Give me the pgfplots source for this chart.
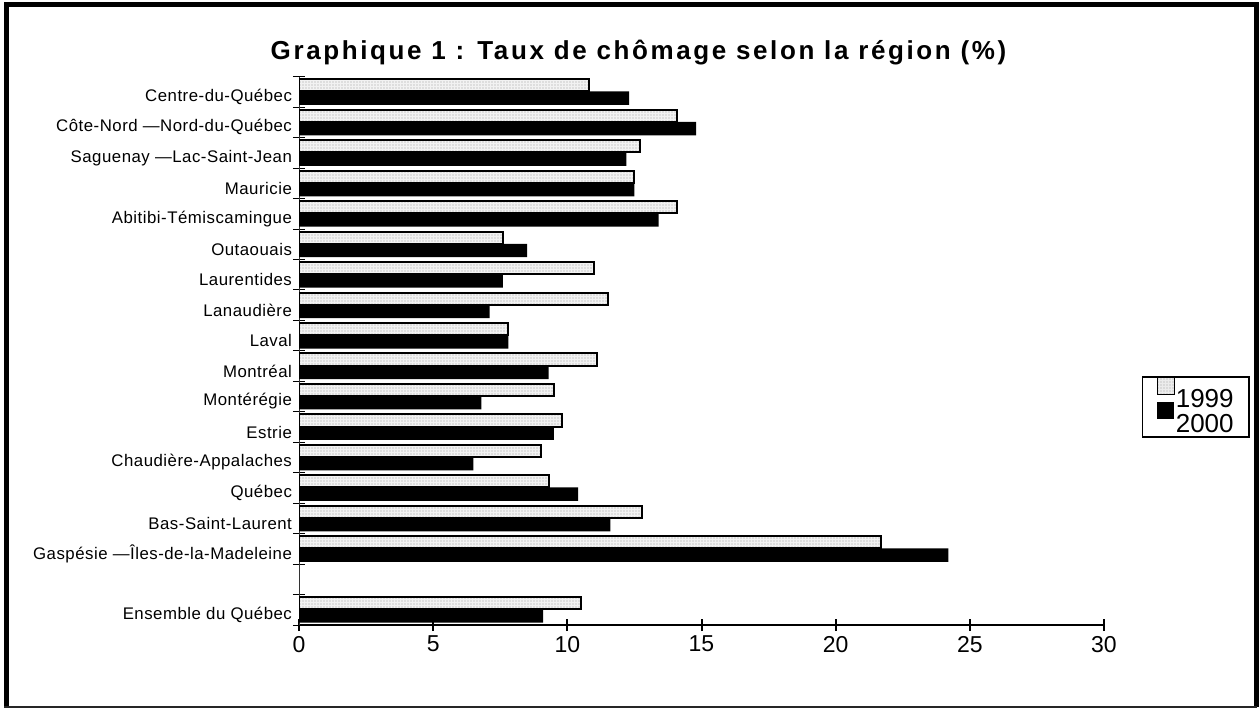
\documentclass[border=0pt]{standalone}
\usepackage{fontspec}
\setmainfont{Liberation Sans}
\newfontfamily\lblfont[LetterSpace=3]{Liberation Sans}
\newfontfamily\ttlfont[LetterSpace=10]{Liberation Sans}
\usepackage{pgfplots}
\usepackage{pgfplotstable}
\pgfplotsset{compat=1.18}
\usetikzlibrary{patterns.meta}

\pgfplotstableread{
y v
17 10.8
16 14.1
15 12.7
14 12.5
13 14.1
12 7.6
11 11.0
10 11.5
9 7.8
8 11.1
7 9.5
6 9.8
5 9.0
4 9.3
3 12.8
2 21.7
0 10.5
}\ninetynine

\pgfplotstableread{
y v
17 12.3
16 14.8
15 12.2
14 12.5
13 13.4
12 8.5
11 7.6
10 7.1
9 7.8
8 9.3
7 6.8
6 9.5
5 6.5
4 10.4
3 11.6
2 24.2
0 9.1
}\twothousand

\begin{document}
\begin{tikzpicture}
\useasboundingbox (0pt,0pt) rectangle (629.5pt,354.5pt);
% frame
\draw[line width=2.5pt] (3.25pt,1pt) -- (3.25pt,352pt) -- (628.25pt,352pt) -- (628.25pt,1pt);
\draw[line width=1pt, black!85] (2pt,1pt) -- (628.25pt,1pt);
% title
\node[font=\ttlfont\bfseries\fontsize{13}{15}\selectfont] at (319.25pt,328pt) {Graphique 1 : Taux de chômage selon la région (\%)};
\begin{axis}[
  at={(149.5pt,42pt)}, anchor=south west, scale only axis,
  width=402.5pt, height=274.15pt,
  xmin=0, xmax=30, ymin=-0.5, ymax=17.5,
  axis lines=left, axis line style={-},
  x axis line style={line width=1pt, black},
  y axis line style={line width=0.5pt, black!80},
  tick align=center, major tick length=6pt,
  xtick={0,5,...,30},
  xtick style={line width=1pt, black},
  xticklabel style={font=\fontsize{11.5}{13}\selectfont, yshift=1pt},
  /pgf/number format/assume math mode=true,
  ytick={-0.5,0.5,...,17.5}, yticklabels={},
  ytick style={line width=0.5pt, black},
  extra y ticks={0,2,3,4,5,6,7,8,9,10,11,12,13,14,15,16,17},
  extra y tick labels={Ensemble du Québec,Gaspésie —Îles-de-la-Madeleine,Bas-Saint-Laurent,Québec,Chaudière-Appalaches,Estrie,Montérégie,Montréal,Laval,Lanaudière,Laurentides,Outaouais,Abitibi-Témiscamingue,Mauricie\hspace{0.35em},Saguenay —Lac-Saint-Jean,Côte-Nord —Nord-du-Québec\hspace{0.2em},Centre-du-Québec},
  extra y tick style={major tick length=0pt, tick style={draw=none}},
  yticklabel style={font=\lblfont\fontsize{8.4}{9}\selectfont, yshift=-2.5pt},
  legend style={at={(1.047,0.454)}, anchor=north west, draw=black, line width=0.8pt,
    font=\fontsize{13}{14}\selectfont, inner xsep=7pt, inner ysep=0pt, row sep=-5pt,
    nodes={inner sep=0.6pt}},
  legend cell align=left,
]
\addplot[xbar, bar shift=0.215, bar width=0.4, draw=black, line width=1pt,
  fill=gray!10, postaction={pattern={Dots[distance=1.5pt,radius=0.35pt]}, pattern color=gray!75},
  legend image code/.code={\draw[draw=black, line width=0.5pt, fill=gray!15] (0pt,3pt) rectangle (8.5pt,11.5pt);}]
  table[x=v,y=y]{\ninetynine};
\addplot[xbar, bar shift=-0.205, bar width=0.44, fill=black, draw=none,
  legend image code/.code={\fill[black] (0pt,3pt) rectangle (8.5pt,11.5pt);}]
  table[x=v,y=y]{\twothousand};
\legend{1999,2000}
\end{axis}
\end{tikzpicture}
\end{document}
